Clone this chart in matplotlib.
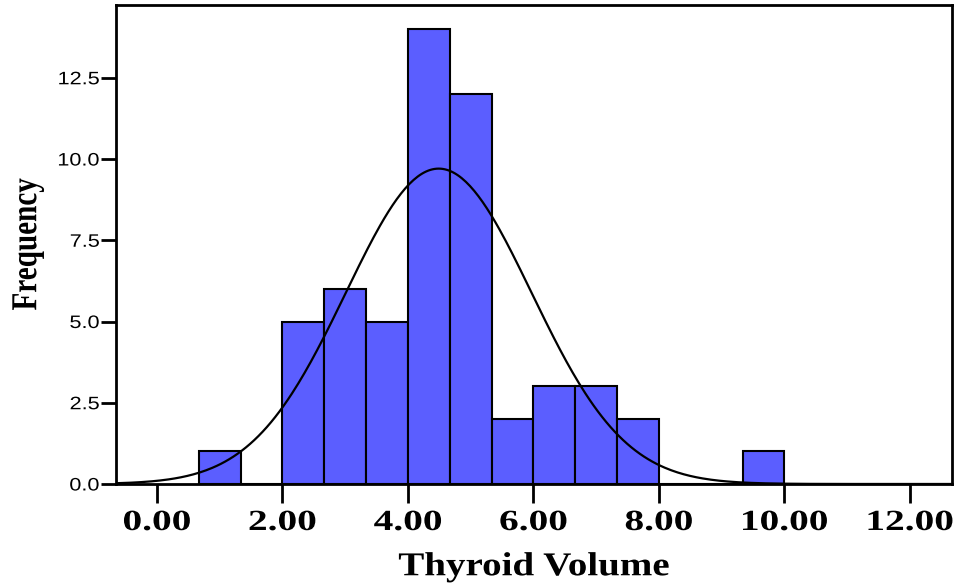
import numpy as np
import matplotlib.pyplot as plt
from matplotlib.patheffects import AbstractPathEffect
from matplotlib.transforms import Affine2D

# histogram of thyroid volume (bin width 2/3)
bin_left = [0.667, 1.333, 2.0, 2.667, 3.333, 4.0, 4.667, 5.333, 6.0, 6.667, 7.333, 8.0, 8.667, 9.333]
counts = [1, 0, 5, 6, 5, 14, 12, 2, 3, 3, 2, 0, 0, 1]
bin_width = 0.6667

# fitted normal curve parameters
mean_vol = 4.49
sd_vol = 1.48
n_total = sum(counts)

xticks = [0, 2, 4, 6, 8, 10, 12]
xticklabels = ['0.00', '2.00', '4.00', '6.00', '8.00', '10.00', '12.00']
yticks = [0.0, 2.5, 5.0, 7.5, 10.0, 12.5]
yticklabels = ['0.0', '2.5', '5.0', '7.5', '10.0', '12.5']


class Stretch(AbstractPathEffect):
    # the original picture is stretched sideways, so stretch the glyphs too
    def __init__(self, sx=1.0, sy=1.0, anchor='center'):
        super().__init__()
        self.sx, self.sy, self.anchor = sx, sy, anchor

    def draw_path(self, renderer, gc, tpath, affine, rgbFace=None):
        ext = tpath.get_extents()
        cx = ext.x1 if self.anchor == 'right' else (ext.x0 + ext.x1) / 2
        cy = (ext.y0 + ext.y1) / 2
        t = Affine2D().translate(-cx, -cy).scale(self.sx, self.sy).translate(cx, cy) + affine
        renderer.draw_path(gc, tpath, t, rgbFace)


fig = plt.figure(figsize=(9.61, 5.87), dpi=100)
ax = fig.add_axes([0.1207, 0.1755, 0.8699, 0.816])

ax.bar(bin_left, counts, width=bin_width, align='edge', color='#5B5EFF',
       edgecolor='black', linewidth=1.5, zorder=2)

xlim = (-0.653, 12.67)
xs = np.linspace(xlim[0], xlim[1], 400)
ys = n_total * bin_width / (sd_vol * np.sqrt(2 * np.pi)) * np.exp(-0.5 * ((xs - mean_vol) / sd_vol) ** 2)
ax.plot(xs, ys, color='black', linewidth=1.6, zorder=3)

ax.set_xlim(xlim)
ax.set_ylim(0, 14.74)

ax.set_xticks(xticks)
ax.set_xticklabels(xticklabels, fontsize=21, fontweight='bold', family='Liberation Serif')
ax.set_yticks(yticks)
ax.set_yticklabels(yticklabels, fontsize=13, family='Liberation Sans')
ax.tick_params(axis='x', direction='out', length=14, width=2, pad=4)
ax.tick_params(axis='y', direction='out', length=11, width=2, pad=1)
for lbl in ax.get_xticklabels():
    lbl.set_path_effects([Stretch(sx=1.35)])
for lbl in ax.get_yticklabels():
    lbl.set_path_effects([Stretch(sx=1.2, anchor='right')])

for sp in ax.spines.values():
    sp.set_linewidth(2)

ax.set_xlabel('Thyroid Volume', fontsize=24, fontweight='bold', family='Liberation Serif',
              labelpad=11, path_effects=[Stretch(sx=1.17)])
ax.set_ylabel('Frequency', fontsize=21, fontweight='bold', family='Liberation Serif',
              labelpad=17, path_effects=[Stretch(sy=1.25)])

fig.savefig('out.png', dpi=100)
